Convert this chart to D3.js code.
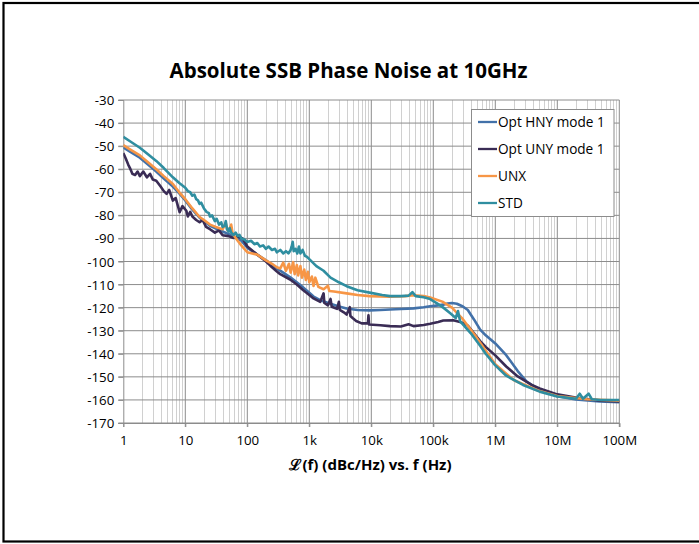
<!DOCTYPE html>
<html>
<head>
<meta charset="utf-8">
<script src="https://cdn.jsdelivr.net/npm/d3@7"></script>
<style>
  body { margin: 0; background: #fff; }
  text { font-family: "Open Sans", "Liberation Sans", sans-serif; fill: #000; }
</style>
</head>
<body>
<div id="chart"></div>
<script>
// series names / colours
var seriesNames = ["Opt HNY mode 1", "Opt UNY mode 1", "UNX", "STD"];
var seriesColors = ["#4271a9", "#3a2c55", "#f79646", "#2f8ea0"];

// tick labels
var xTicks = [1, 10, 100, 1e3, 1e4, 1e5, 1e6, 1e7, 1e8];
var xTickLabels = ["1", "10", "100", "1k", "10k", "100k", "1M", "10M", "100M"];
var yTicks = [-30, -40, -50, -60, -70, -80, -90, -100, -110, -120, -130, -140, -150, -160, -170];

// [frequency Hz, dBc/Hz]
var hnyData = [
  [1,-50.5],[1.3,-52.5],[1.85,-55],[2.5,-58],[3.4,-61],[4.5,-64],[6.3,-67.5],[8,-70.5],[10,-73.5],
  [13,-77.5],[17,-81],[25,-84.5],[40,-87],[60,-89],[80,-91],[100,-94],[144,-97],[200,-99.5],
  [300,-103],[500,-107],[700,-110],[1000,-113.5],[1170,-115.2],[1500,-116.8],[2200,-118.3],
  [3000,-119.5],[4000,-120.4],[6000,-121],[9400,-121.2],[14000,-121],[20000,-120.8],[30000,-120.6],
  [48000,-120.3],[70000,-119.8],[89000,-119.4],[120000,-119],[145000,-118.7],[170000,-118.2],
  [200000,-118],[240000,-118.3],[300000,-119.5],[360000,-121],[450000,-125],[570000,-129.5],
  [700000,-132],[1e6,-135.5],[1.5e6,-140.6],[2.3e6,-147.5],[3.2e6,-152],[5.2e6,-155.8],
  [1e7,-158.4],[2e7,-159.8],[4.8e7,-160.7],[1e8,-161]
];
var unyData = [
  [1,-53],[1.1,-55.5],[1.2,-58],[1.28,-59.5],[1.4,-62],[1.55,-62.5],[1.7,-61],[1.85,-63],
  [2.1,-61],[2.4,-63.5],[2.7,-62],[3,-64.5],[3.4,-65],[4,-67.5],[4.5,-69.5],[5,-70.7],[5.5,-69],
  [6.3,-73.6],[7,-72.5],[8.1,-78.6],[9,-76],[10.4,-78],[11,-80.5],[12,-78.5],[13,-80.5],[15,-82],
  [17,-83],[19,-82],[21.6,-85],[25,-86],[30,-87.5],[35,-86.5],[40,-88.6],[50,-89],[60,-89.8],
  [70,-89.2],[84,-90],[100,-93.5],[144,-97],[200,-100],[235,-101.8],[300,-104.3],[340,-105.5],
  [490,-107.8],[630,-110],[800,-112.5],[1000,-114.5],[1170,-116],[1500,-117.5],[1700,-113.8],
  [1750,-118],[2000,-119],[2200,-116.2],[2300,-119.6],[2800,-120.5],[3000,-117.5],[3100,-121],
  [3600,-122],[4000,-123],[4500,-119.8],[4600,-123.6],[5000,-124.5],[5700,-125.8],[7000,-126.8],
  [8800,-126.8],[9000,-123.3],[9200,-127.3],[14000,-127.6],[20000,-128],[30000,-128.2],
  [40000,-127.2],[48000,-128],[70000,-127.5],[89000,-127],[120000,-126.2],[145000,-125.6],
  [210000,-125.5],[280000,-126.3],[360000,-127.8],[450000,-131],[570000,-134.5],[700000,-137],
  [1e6,-140.7],[1.5e6,-145.5],[2.3e6,-149.8],[3.8e6,-153.4],[5.2e6,-155],[1e7,-157.6],
  [2.3e7,-159.3],[5e7,-160.3],[1e8,-160.7]
];
var unxData = [
  [1,-49.6],[1.3,-51.5],[1.85,-54],[2.5,-57],[3.4,-60],[4.5,-63],[6.3,-66.4],[8,-70],[10,-73],
  [13,-77],[17,-80.7],[20,-82],[25,-84],[31,-85],[40,-86],[45,-83.5],[48,-86.4],[51,-86.4],
  [55,-84],[58,-88],[70,-91],[80,-93],[100,-96],[144,-97],[200,-99.5],[250,-101],[300,-102.5],
  [340,-103],[380,-100.5],[420,-104],[470,-101],[500,-104.8],[550,-100.3],[580,-105.5],
  [630,-101.5],[660,-106],[720,-102],[760,-107],[830,-103.5],[880,-108],[950,-104.5],
  [1000,-109],[1100,-106.5],[1170,-110.6],[1250,-107],[1400,-111],[1700,-112],[2000,-110.5],
  [2100,-112.8],[2500,-113],[4000,-113.8],[6000,-114.5],[9400,-115],[20000,-115.3],
  [35000,-115],[48000,-114.6],[70000,-115],[89000,-115.6],[140000,-117.4],[200000,-120],
  [300000,-125],[500000,-133],[1e6,-144.5],[2e6,-151.5],[5e6,-156],[1e7,-158.3],
  [3e7,-159.7],[1e8,-160.3]
];
var stdData = [
  [1,-46],[1.3,-48],[1.85,-50.7],[2.5,-53.5],[3.4,-56.4],[4.5,-59.5],[6.3,-63.5],[8,-66],
  [10,-68],[11,-69.5],[12,-70],[13,-71.5],[14,-71],[15,-73],[16,-73.5],[17,-75],[18,-74.5],
  [20,-77],[22,-78.5],[24,-79],[25,-80.5],[27,-80],[30,-82.5],[32,-81.5],[35,-84],[38,-83],
  [40,-85],[43,-84.5],[45,-82.5],[47,-86],[50,-87],[52,-85.5],[55,-87.5],[60,-88.5],[65,-87.5],
  [70,-89],[75,-88.5],[80,-90],[90,-90.5],[100,-91.5],[115,-91],[130,-92.5],[145,-92],
  [160,-93.5],[180,-93],[200,-94.5],[220,-93.5],[250,-95],[280,-94.5],[300,-96],[340,-95],
  [380,-96.5],[420,-95.5],[460,-96.5],[500,-95],[520,-93.5],[540,-91.5],[560,-95.5],[600,-94.5],
  [640,-96.5],[680,-93.5],[720,-96.5],[780,-95],[850,-97.5],[920,-98],[1000,-99],
  [1300,-102],[1700,-104],[2200,-107],[3000,-109],[4000,-110.7],
  [6000,-112.5],[9400,-113.5],[15000,-114.5],[20000,-115],[30000,-115],[40000,-114.8],
  [46000,-113.3],[52000,-115],[70000,-115.5],[89000,-116.3],[120000,-118.5],[145000,-120],
  [190000,-122.5],[230000,-124.5],[250000,-121.5],[270000,-125.8],[400000,-131],
  [570000,-136.5],[700000,-140],[1e6,-145],[1.5e6,-149.5],[2.8e6,-153.5],[5.2e6,-156.4],
  [1e7,-158.5],[2e7,-159.5],[2.3e7,-157.3],[2.6e7,-159.5],[3.2e7,-157.3],[3.6e7,-159.7],
  [5e7,-160],[1e8,-160]
];
var allSeries = [hnyData, unyData, unxData, stdData];

var W = 699, H = 544;
var plot = {left: 123.3, right: 619.3, top: 100, bottom: 423};

var svg = d3.select("#chart").append("svg")
    .attr("width", W)
    .attr("height", H);

svg.append("rect").attr("width", W).attr("height", H).attr("fill", "#fff");

// outer frame (right edge falls off the picture)
svg.append("rect")
    .attr("x", 3.5).attr("y", 3)
    .attr("width", 700).attr("height", 538.5)
    .attr("fill", "none")
    .attr("stroke", "#000")
    .attr("stroke-width", 2.2);

var x = d3.scaleLog()
    .domain([1, 1e8])
    .range([plot.left, plot.right]);

var y = d3.scaleLinear()
    .domain([-170, -30])
    .range([plot.bottom, plot.top]);

// minor vertical grid
var minor = [];
for (var d = 1; d < 1e8; d *= 10) {
  for (var m = 2; m <= 9; m++) minor.push(d * m);
}
svg.append("g").selectAll("line")
  .data(minor)
  .join("line")
    .attr("x1", function(d) { return Math.round(x(d)) + 0.5; })
    .attr("x2", function(d) { return Math.round(x(d)) + 0.5; })
    .attr("y1", plot.top)
    .attr("y2", plot.bottom)
    .attr("stroke", "#d0d0d0")
    .attr("stroke-width", 1);

// major grids
svg.append("g").selectAll("line")
  .data(xTicks.slice(1))
  .join("line")
    .attr("x1", function(d) { return x(d); })
    .attr("x2", function(d) { return x(d); })
    .attr("y1", plot.top)
    .attr("y2", plot.bottom + 4)
    .attr("stroke", "#8c8c8c")
    .attr("stroke-width", 1);

svg.append("g").selectAll("line")
  .data(yTicks)
  .join("line")
    .attr("x1", plot.left - 5)
    .attr("x2", plot.right)
    .attr("y1", function(d) { return y(d); })
    .attr("y2", function(d) { return y(d); })
    .attr("stroke", "#8c8c8c")
    .attr("stroke-width", 1);

// axes
var yAxis = svg.append("g")
    .attr("transform", "translate(" + plot.left + ",0)")
    .call(d3.axisLeft(y).tickValues(yTicks).tickSize(5).tickPadding(4)
      .tickFormat(function(d) { return String(d); }));
yAxis.selectAll("path, line").attr("stroke", "#8c8c8c");
yAxis.selectAll("text").attr("font-size", "13.3px")
    .attr("font-family", "'Open Sans', sans-serif").attr("dy", "0.34em");

var xAxis = svg.append("g")
    .attr("transform", "translate(0," + plot.bottom + ")")
    .call(d3.axisBottom(x).tickValues(xTicks).tickSize(4).tickPadding(9)
      .tickFormat(function(d, i) { return xTickLabels[i]; }));
xAxis.selectAll("path, line").attr("stroke", "#8c8c8c");
xAxis.selectAll("text").attr("font-size", "13.3px")
    .attr("font-family", "'Open Sans', sans-serif");

// lines
svg.append("clipPath").attr("id", "clip")
  .append("rect")
    .attr("x", plot.left).attr("y", plot.top - 2)
    .attr("width", plot.right - plot.left + 2)
    .attr("height", plot.bottom - plot.top + 2);

var line = d3.line()
    .x(function(d) { return x(d[0]); })
    .y(function(d) { return y(d[1]); });

svg.append("g").attr("clip-path", "url(#clip)")
  .selectAll("path")
  .data(allSeries)
  .join("path")
    .attr("fill", "none")
    .attr("stroke", function(d, i) { return seriesColors[i]; })
    .attr("stroke-width", 2.6)
    .attr("stroke-linejoin", "round")
    .attr("d", line);

// title
svg.append("text")
    .attr("x", 348.5).attr("y", 78)
    .attr("text-anchor", "middle")
    .attr("font-size", "20.5px")
    .attr("font-weight", "bold")
    .text("Absolute SSB Phase Noise at 10GHz");

// x axis title
svg.append("text")
    .attr("x", 370.5).attr("y", 470)
    .attr("text-anchor", "middle")
    .attr("font-size", "15px")
    .attr("font-weight", "bold")
    .text("\u2112(f) (dBc/Hz) vs. f (Hz)");

// legend
var leg = svg.append("g");
leg.append("rect")
    .attr("x", 471.5).attr("y", 109.5)
    .attr("width", 142.5).attr("height", 107)
    .attr("fill", "#fff")
    .attr("stroke", "#8c8c8c");

var rows = leg.selectAll("g.item")
  .data(seriesNames)
  .join("g")
    .attr("class", "item")
    .attr("transform", function(d, i) { return "translate(478," + (122 + i * 27) + ")"; });
rows.append("line")
    .attr("x1", 0).attr("x2", 19)
    .attr("stroke", function(d, i) { return seriesColors[i]; })
    .attr("stroke-width", 2.3);
rows.append("text")
    .attr("x", 20).attr("dy", "0.35em")
    .attr("font-size", "13.6px")
    .text(function(d) { return d; });
</script>
</body>
</html>
